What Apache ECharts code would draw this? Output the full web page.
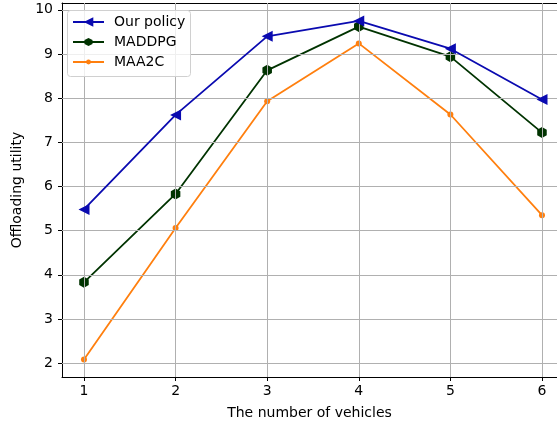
<!DOCTYPE html>
<html><head><meta charset="utf-8">
<script src="https://cdn.jsdelivr.net/npm/echarts@6/dist/echarts.min.js"></script>
<style>html,body{margin:0;padding:0;background:#fff}#c{width:557px;height:425px}</style>
</head><body><div id="c"></div>
<script>
const xValues = [1, 2, 3, 4, 5, 6];
const ourPolicy = [5.48, 7.62, 9.40, 9.75, 9.12, 7.97];
const maddpg = [3.83, 5.83, 8.63, 9.62, 8.94, 7.22];
const maa2c = [2.08, 5.06, 7.93, 9.24, 7.63, 5.35];
const seriesNames = ['Our policy', 'MADDPG', 'MAA2C'];
const xTicks = [1, 2, 3, 4, 5, 6];
const yTicks = [2, 3, 4, 5, 6, 7, 8, 9, 10];

const hex = 'path://M0,-1 L0.866,-0.5 L0.866,0.5 L0,1 L-0.866,0.5 L-0.866,-0.5 Z';
const font = 'DejaVu Sans';
const toPairs = arr => xValues.map((x, i) => [x, arr[i]]);

const legendTops = [14, 34, 54];
const legendIconH = [12, 10, 6];
const legends = seriesNames.map((n, i) => ({
  left: 72, top: legendTops[i], orient: 'vertical', padding: 0,
  itemWidth: 31, itemHeight: legendIconH[i], z: 10,
  textStyle: {fontFamily: font, fontSize: 14, color: '#000', lineHeight: 16, padding: [0, 0, 0, 5]},
  data: [n]
}));

const chart = echarts.init(document.getElementById('c'));
chart.setOption({
  animation: false,
  textStyle: {fontFamily: font},
  grid: {left: 62, top: 3, right: 0, bottom: 47},
  graphic: [{
    type: 'rect', left: 67, top: 10, z: 9,
    shape: {width: 123, height: 66, r: 3},
    style: {fill: 'rgba(255,255,255,0.8)', stroke: '#d0d0d0', lineWidth: 1}
  }],
  legend: legends,
  xAxis: [{
    type: 'value', min: 0.76, max: 6.164,
    name: 'The number of vehicles', nameLocation: 'middle', nameGap: 29,
    nameTextStyle: {fontFamily: font, fontSize: 14, color: '#000'},
    axisLine: {show: true, lineStyle: {color: '#000', width: 1}},
    axisTick: {show: true, length: 4, customValues: xTicks, lineStyle: {color: '#000'}},
    axisLabel: {customValues: xTicks, fontFamily: font, fontSize: 14, color: '#000', margin: 7},
    splitLine: {show: false}
  }, {
    type: 'value', position: 'top', min: 0.76, max: 6.164,
    axisLine: {show: true, lineStyle: {color: '#000', width: 1}},
    axisTick: {show: false}, axisLabel: {show: false}, splitLine: {show: false}
  }],
  yAxis: {
    type: 'value', min: 1.685, max: 10.155,
    name: 'Offloading utility', nameLocation: 'middle', nameGap: 29,
    nameTextStyle: {fontFamily: font, fontSize: 14, color: '#000'},
    axisLine: {show: true, lineStyle: {color: '#000', width: 1}},
    axisTick: {show: true, length: 4, customValues: yTicks, lineStyle: {color: '#000'}},
    axisLabel: {customValues: yTicks, fontFamily: font, fontSize: 14, color: '#000', margin: 9},
    splitLine: {show: false}
  },
  series: [
    {
      name: 'Grid', type: 'line', data: [], silent: true,
      markLine: {
        silent: true, symbol: 'none', label: {show: false},
        lineStyle: {color: '#b0b0b0', width: 1, type: 'solid'},
        data: xTicks.map(v => ({xAxis: v})).concat(yTicks.map(v => ({yAxis: v})))
      }
    },
    {
      name: seriesNames[0], type: 'line', data: toPairs(ourPolicy), z: 5,
      color: '#0a0ab0', lineStyle: {width: 1.8},
      symbol: 'triangle', symbolRotate: 90, symbolSize: 11, showAllSymbol: true
    },
    {
      name: seriesNames[1], type: 'line', data: toPairs(maddpg), z: 4,
      color: '#003300', lineStyle: {width: 1.8},
      symbol: hex, symbolSize: 11, symbolKeepAspect: true
    },
    {
      name: seriesNames[2], type: 'line', data: toPairs(maa2c), z: 3,
      color: '#ff7f0e', lineStyle: {width: 1.8},
      symbol: 'circle', symbolSize: 6
    }
  ]
});
</script></body></html>
